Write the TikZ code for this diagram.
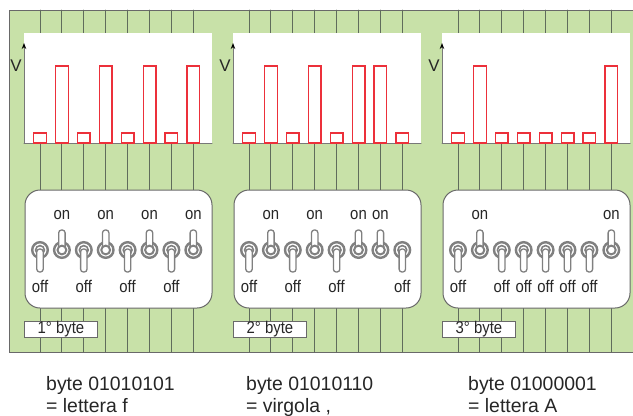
\documentclass[tikz,border=0pt]{standalone}
\usepackage{fontspec}
\setmainfont{Liberation Sans}
\newfontfamily\narrowfont[FakeStretch=0.88]{Liberation Sans}
\usetikzlibrary{arrows.meta}
\definecolor{boardgreen}{RGB}{200,225,168}
\definecolor{trackgray}{RGB}{96,108,92}
\definecolor{barred}{RGB}{236,48,58}
\definecolor{framegray}{RGB}{105,105,105}
\definecolor{knobgray}{RGB}{128,128,128}
\definecolor{axisgray}{RGB}{120,120,120}
\begin{document}
\begin{tikzpicture}[x=1bp, y=-1bp, line cap=round,
  every node/.style={inner sep=0pt, text=black!85},
  swlabel/.style={font=\narrowfont\fontsize{17}{17}\selectfont},
  bytebox/.style={draw=framegray, fill=white, line width=0.9bp, minimum width=73bp, minimum height=16bp, anchor=north west, font=\narrowfont\fontsize{17}{17}\selectfont},
  caption/.style={anchor=base west, font=\fontsize{19.5}{20}\selectfont},
  bar/.style={barred, line width=1.4bp},
  ring/.style={knobgray, fill=white}]
\useasboundingbox (0,0) rectangle (633,415);

% the green board with its tracks
\begin{scope}
  \clip (0,0) rectangle (633,415);
  \fill[boardgreen] (9,10) rectangle (640,352);
  \draw[framegray, line width=1bp] (640,10) -- (9,10) -- (9,352) -- (640,352);
\end{scope}
\foreach \p in {0,1,2} {
  \foreach \k in {0,...,7} {
    \draw[trackgray, line width=0.9bp] ({40+209*\p+21.9*\k},10) -- ++(0,342);
  }
}

% one panel per byte: voltage plot, switch box, label
\foreach \p/\bits/\lab in {0/{0,1,0,1,0,1,0,1}/1, 1/{0,1,0,1,0,1,1,0}/2, 2/{0,1,0,0,0,0,0,1}/3} {
  \pgfmathsetmacro{\ox}{209*\p}
  % plot
  \fill[white] ({24+\ox},33) rectangle ({212+\ox},143);
  \draw[axisgray, line width=1bp] ({24+\ox},143) -- ({212+\ox},143);
  \draw[axisgray, line width=1bp, -{Stealth[black, length=6bp, width=4.5bp]}] ({24+\ox},143) -- ({24+\ox},43);
  \node[font=\fontsize{17}{17}\selectfont] (volt\lab) at ({16+\ox},66) {V};
  % switch box
  \draw[framegray, fill=white, line width=1bp, rounded corners=15bp] ({25+\ox},190) rectangle ({212+\ox},308);
  \node[bytebox] (byte\lab) at ({24+\ox},321) {\lab° byte};
  \foreach \b [count=\k from 0] in \bits {
    \pgfmathsetmacro{\cx}{40+\ox+21.9*\k}
    \ifnum\b=1
      \draw[bar] ({\cx-6.3},143) rectangle ({\cx+6.3},66);
      \draw[ring, line width=2.4bp] (\cx,250) circle[radius=7.8];
      \draw[ring, line width=1.3bp, rounded corners=2.8bp] ({\cx-3.2},250) rectangle ({\cx+3.2},230);
      \draw[ring, line width=2bp] (\cx,250) circle[radius=4.4];
      \node[swlabel] (sw\lab\k) at (\cx,215) {on};
    \else
      \draw[bar] ({\cx-6.3},143) rectangle ({\cx+6.3},133);
      \draw[ring, line width=2.4bp] (\cx,250) circle[radius=7.8];
      \draw[ring, line width=1.6bp] (\cx,250) circle[radius=4.4];
      \draw[ring, line width=1.3bp, rounded corners=2.8bp] ({\cx-3.2},249) rectangle ({\cx+3.2},272);
      \node[swlabel] (sw\lab\k) at (\cx,286) {off};
    \fi
  }
}

% what each byte means
\node[caption] (code1) at (46,390) {byte 01010101};
\node[caption] (char1) at (46,412) {= lettera f};
\node[caption] (code2) at (246,390) {byte 01010110};
\node[caption] (char2) at (246,412) {= virgola ,};
\node[caption] (code3) at (468,390) {byte 01000001};
\node[caption] (char3) at (468,412) {= lettera A};

\end{tikzpicture}
\end{document}
